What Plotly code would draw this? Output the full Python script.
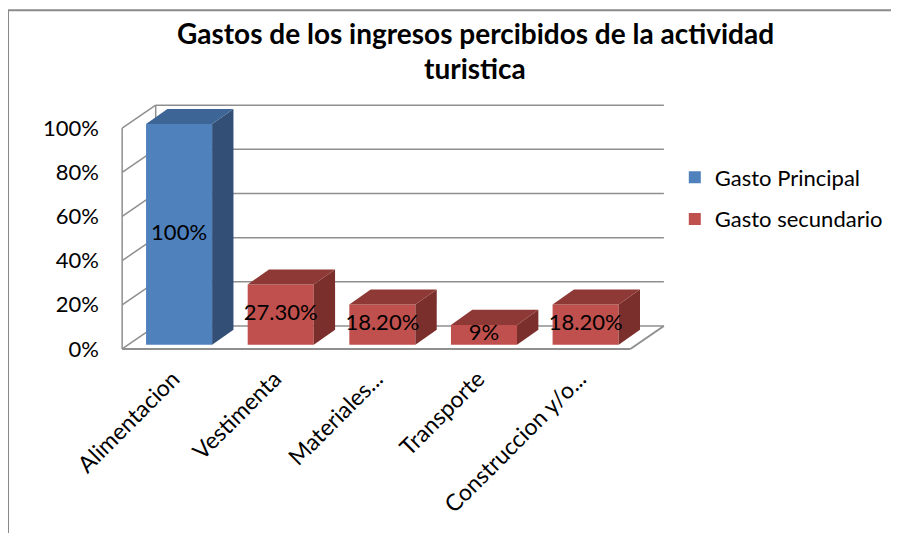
import plotly.graph_objects as go

# ---- data ----
categories = ["Alimentacion", "Vestimenta", "Materiales...", "Transporte", "Construccion y/o..."]
series_names = ["Gasto Principal", "Gasto secundario"]
principal_values = [1.00, None, None, None, None]
secundario_values = [None, 0.273, 0.182, 0.09, 0.182]
label_texts = ["100%", "27.30%", "18.20%", "9%", "18.20%"]
y_tick_vals = [0, 0.2, 0.4, 0.6, 0.8, 1.0]
y_tick_text = ["0%", "20%", "40%", "60%", "80%", "100%"]

# ---- styling / 3D geometry (in axis units) ----
FONT = "Lato"
front_cols = {"Gasto Principal": "#4F81BD", "Gasto secundario": "#C0504D"}
side_cols = {"Gasto Principal": "#334F76", "Gasto secundario": "#7A2F2D"}
top_cols = {"Gasto Principal": "#3D6596", "Gasto secundario": "#8E3935"}
wall_col = "#8F8F8F"
DXW, DYW = 0.33, 0.104        # wall depth offset
BAR_W = 0.65
BSX, BSY = 0.06, 0.019        # bar front offset in depth
BDX, BDY = 0.21, 0.068        # bar depth
x0, x1 = -0.5, len(categories) - 0.5

fig = go.Figure()
shapes = []

def seg(xa, ya, xb, yb, w=1.5):
    shapes.append(dict(type="line", xref="x", yref="y", x0=xa, y0=ya, x1=xb, y1=yb,
                       line=dict(color=wall_col, width=w), layer="below"))

# walls
for v in y_tick_vals:
    seg(x0 + DXW, v + DYW, x1 + DXW, v + DYW)      # back wall grid
    seg(x0, v, x0 + DXW, v + DYW)                  # left wall grid
seg(x0, 0, x0, y_tick_vals[-1])
seg(x0 + DXW, DYW, x0 + DXW, y_tick_vals[-1] + DYW)
seg(x0, 0, x1, 0, 2)
seg(x1, 0, x1 + DXW, DYW, 2)

# bars
for name, vals in [(series_names[0], principal_values), (series_names[1], secundario_values)]:
    xs = [i + BSX for i, v in enumerate(vals) if v is not None]
    ys = [v for v in vals if v is not None]
    fig.add_trace(go.Bar(
        x=xs, y=ys, base=BSY, width=BAR_W, name=name, legendgroup=name,
        marker=dict(color=front_cols[name], line=dict(width=0)),
        hoverinfo="skip"))
    for xc, v in zip(xs, ys):
        xl, xr = xc - BAR_W / 2, xc + BAR_W / 2
        yb, yt = BSY, BSY + v
        fig.add_trace(go.Scatter(
            x=[xr, xr + BDX, xr + BDX, xr, xr], y=[yb, yb + BDY, yt + BDY, yt, yb],
            fill="toself", fillcolor=side_cols[name], mode="lines",
            line=dict(width=0, color=side_cols[name]), showlegend=False, hoverinfo="skip"))
        fig.add_trace(go.Scatter(
            x=[xl, xr, xr + BDX, xl + BDX, xl], y=[yt, yt, yt + BDY, yt + BDY, yt],
            fill="toself", fillcolor=top_cols[name], mode="lines",
            line=dict(width=0, color=top_cols[name]), showlegend=False, hoverinfo="skip"))

# data labels
all_vals = [p if p is not None else s for p, s in zip(principal_values, secundario_values)]
fig.add_trace(go.Scatter(
    x=[i + BSX for i in range(len(categories))],
    y=[BSY + v / 2 for v in all_vals],
    text=label_texts, mode="text", textposition="middle center",
    textfont=dict(family=FONT, size=22, color="#000000"),
    showlegend=False, hoverinfo="skip"))

# chart border
shapes.append(dict(type="rect", xref="paper", yref="paper",
                   x0=-0.186, x1=1.6, y0=-1.0, y1=1.32,
                   line=dict(color="#8A8A8A", width=2), fillcolor="rgba(0,0,0,0)", layer="below"))

# title
annotations = [
    dict(text="<b>Gastos de los ingresos percibidos de la actividad</b>", xref="paper", yref="paper",
         x=0.65, y=1.234, yanchor="middle", showarrow=False,
         font=dict(family=FONT, size=28, color="#000000")),
    dict(text="<b>turistica</b>", xref="paper", yref="paper",
         x=0.65, y=1.102, yanchor="middle", showarrow=False,
         font=dict(family=FONT, size=28, color="#000000")),
]

fig.update_layout(
    width=891, height=525,
    margin=dict(l=104, r=227, t=87, b=173),
    paper_bgcolor="white", plot_bgcolor="white",
    barmode="overlay",
    shapes=shapes, annotations=annotations,
    showlegend=True,
    legend=dict(x=1.005, y=0.768, xanchor="left", yanchor="top",
                font=dict(family=FONT, size=22, color="#000000"),
                traceorder="grouped", tracegroupgap=10, itemwidth=30,
                bgcolor="rgba(0,0,0,0)"),
    xaxis=dict(range=[-0.6, 4.9], tickvals=list(range(len(categories))), ticktext=categories,
               tickangle=-45, showgrid=False, zeroline=False, showline=False, automargin=False,
               tickfont=dict(family=FONT, size=23, color="#000000"), fixedrange=True),
    yaxis=dict(range=[-0.05, 1.15], tickvals=y_tick_vals, ticktext=y_tick_text,
               showgrid=False, zeroline=False, showline=False, ticklabelstandoff=12, automargin=False,
               tickfont=dict(family=FONT, size=22, color="#000000"), fixedrange=True),
)

fig.write_html("out.html")
